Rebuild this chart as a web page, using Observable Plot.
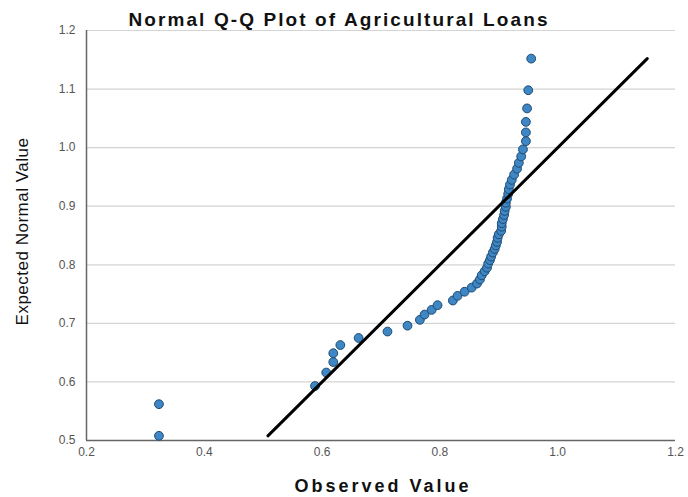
<!DOCTYPE html>
<html>
<head>
<meta charset="utf-8">
<script src="https://cdn.jsdelivr.net/npm/d3@7"></script>
<script src="https://cdn.jsdelivr.net/npm/@observablehq/plot@0.6"></script>
<style>
  body { margin: 0; background: #fff; }
  #chart svg { display: block; }
</style>
</head>
<body>
<div id="chart"></div>
<script>
// Sorted observed values of agricultural loans
const observed = [
  0.323, 0.323, 0.588, 0.607, 0.619, 0.619, 0.631, 0.662, 0.711, 0.745,
  0.766, 0.774, 0.786, 0.796, 0.822, 0.830, 0.842, 0.854, 0.863, 0.868,
  0.871, 0.876, 0.880, 0.882, 0.885, 0.887, 0.890, 0.893, 0.895, 0.897,
  0.898, 0.900, 0.904, 0.905, 0.905, 0.907, 0.909, 0.910, 0.912, 0.912,
  0.914, 0.916, 0.917, 0.919, 0.922, 0.926, 0.931, 0.934, 0.938, 0.941,
  0.946, 0.946, 0.946, 0.948, 0.950, 0.955
];

// Expected normal value for each ranked observation
const expected = [
  0.508, 0.562, 0.593, 0.616, 0.634, 0.649, 0.663, 0.675, 0.686, 0.696,
  0.706, 0.715, 0.723, 0.731, 0.739, 0.747, 0.754, 0.761, 0.768, 0.775,
  0.782, 0.789, 0.795, 0.802, 0.808, 0.814, 0.821, 0.827, 0.833, 0.839,
  0.846, 0.852, 0.858, 0.865, 0.871, 0.878, 0.885, 0.892, 0.899, 0.906,
  0.913, 0.921, 0.929, 0.937, 0.945, 0.954, 0.964, 0.974, 0.985, 0.997,
  1.011, 1.026, 1.044, 1.067, 1.098, 1.152
];

const xTicks = [0.2, 0.4, 0.6, 0.8, 1.0, 1.2];
const yTicks = [0.5, 0.6, 0.7, 0.8, 0.9, 1.0, 1.1, 1.2];

const titleText = "Normal Q-Q Plot of Agricultural Loans";
const xLabel = "Observed Value";
const yLabel = "Expected Normal Value";

const points = observed.map((v, i) => ({observed: v, expected: expected[i]}));

// Reference line y = x spanning the range of expected values
const lineEnds = d3.extent(expected).map(v => ({observed: v, expected: v}));

const font = "'Liberation Sans', Arial, Helvetica, sans-serif";

const chart = Plot.plot({
  width: 688,
  height: 497,
  marginTop: 30,
  marginLeft: 86,
  marginRight: 13,
  marginBottom: 57,
  style: {fontFamily: font, background: "#fff"},
  x: {domain: [0.2, 1.2]},
  y: {domain: [0.5, 1.2]},
  marks: [
    Plot.gridY(yTicks.slice(1), {stroke: "#d4d4d4", strokeOpacity: 1, strokeWidth: 1.2}),
    Plot.axisX(xTicks, {tickSize: 0, tickPadding: 7, tickFormat: d3.format(".1f"),
      label: null, fontSize: 12, fill: "#555"}),
    Plot.axisY(yTicks, {tickSize: 0, tickPadding: 11, tickFormat: d3.format(".1f"),
      label: null, fontSize: 12, fill: "#555"}),
    Plot.ruleY([0.5], {stroke: "#666", strokeWidth: 1.5}),
    Plot.ruleX([0.2], {stroke: "#666", strokeWidth: 1.5}),
    Plot.dot(points, {x: "observed", y: "expected", r: 4.4,
      fill: "#3f86c4", stroke: "#1e4b72", strokeWidth: 1}),
    Plot.line(lineEnds, {x: "observed", y: "expected", stroke: "#000", strokeWidth: 3}),
    Plot.text([titleText], {frameAnchor: "top", lineAnchor: "bottom", dx: -42, dy: -5,
      fontSize: 19, fontWeight: "bold", fill: "#111"}),
    Plot.text([xLabel], {frameAnchor: "bottom", lineAnchor: "bottom", dx: 2, dy: 51,
      fontSize: 18, fontWeight: "bold", fill: "#111"}),
    Plot.text([yLabel], {frameAnchor: "left", textAnchor: "middle", rotate: -90, dx: -64, dy: -4,
      fontSize: 17, fill: "#111"})
  ]
});

// Wide letter spacing on the title and the x-axis label
const spacing = {[titleText]: "2.1px", [xLabel]: "3px", [yLabel]: "0.5px"};
d3.select(chart).selectAll("text").each(function() {
  const s = spacing[this.textContent];
  if (s) this.style.letterSpacing = s;
});

document.getElementById("chart").append(chart);
</script>
</body>
</html>
